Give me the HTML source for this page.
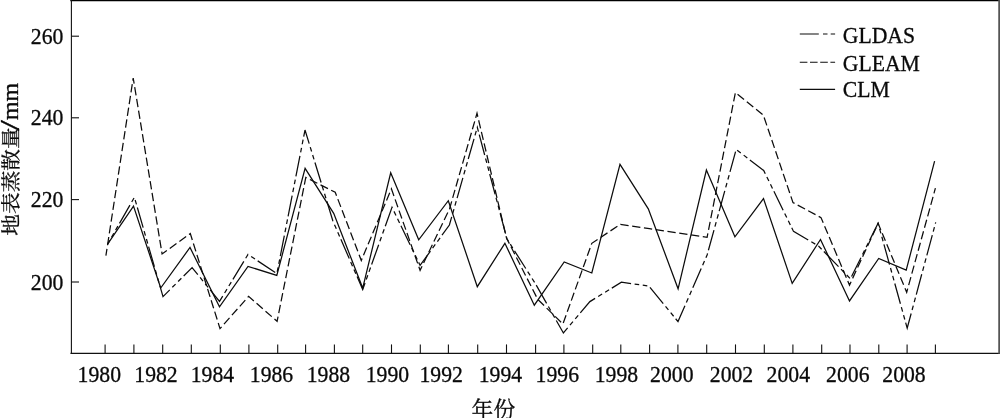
<!DOCTYPE html>
<html lang="zh-CN">
<head>
<meta charset="utf-8">
<title>地表蒸散量</title>
<style>
html,body{margin:0;padding:0;background:#fff;}
body{width:1000px;height:418px;overflow:hidden;}
svg{display:block;}
text{font-family:"Liberation Serif","Noto Serif CJK SC",serif;fill:#0a0a0a;stroke:#0a0a0a;stroke-width:0.3px;}
.cjk{font-family:"Liberation Serif","Noto Serif CJK SC",serif;}
</style>
</head>
<body>
<svg width="1000" height="418" viewBox="0 0 1000 418">
<rect x="0" y="0" width="1000" height="418" fill="#ffffff"/>

<g stroke="#111" fill="none">
<line x1="70.3" y1="0.55" x2="1000" y2="0.55" stroke="#000" stroke-width="1.2"/>
<line x1="71.4" y1="0" x2="71.4" y2="353.9" stroke-width="1.1"/>
<line x1="70.5" y1="353.3" x2="1000" y2="353.3" stroke-width="1.2"/>
<line x1="999.2" y1="0" x2="999.2" y2="353.8" stroke="#555" stroke-width="1.9"/>
<line x1="105.1" y1="344.4" x2="105.1" y2="353.3" stroke-width="1.1"/>
<line x1="133.9" y1="344.4" x2="133.9" y2="353.3" stroke-width="1.1"/>
<line x1="162.7" y1="344.4" x2="162.7" y2="353.3" stroke-width="1.1"/>
<line x1="191.3" y1="344.4" x2="191.3" y2="353.3" stroke-width="1.1"/>
<line x1="220.3" y1="344.4" x2="220.3" y2="353.3" stroke-width="1.1"/>
<line x1="248.9" y1="344.4" x2="248.9" y2="353.3" stroke-width="1.1"/>
<line x1="277.7" y1="344.4" x2="277.7" y2="353.3" stroke-width="1.1"/>
<line x1="305.6" y1="344.4" x2="305.6" y2="353.3" stroke-width="1.1"/>
<line x1="334.4" y1="344.4" x2="334.4" y2="353.3" stroke-width="1.1"/>
<line x1="362.7" y1="344.4" x2="362.7" y2="353.3" stroke-width="1.1"/>
<line x1="391.5" y1="344.4" x2="391.5" y2="353.3" stroke-width="1.1"/>
<line x1="420.3" y1="344.4" x2="420.3" y2="353.3" stroke-width="1.1"/>
<line x1="448.4" y1="344.4" x2="448.4" y2="353.3" stroke-width="1.1"/>
<line x1="477.7" y1="344.4" x2="477.7" y2="353.3" stroke-width="1.1"/>
<line x1="506.5" y1="344.4" x2="506.5" y2="353.3" stroke-width="1.1"/>
<line x1="535.6" y1="344.4" x2="535.6" y2="353.3" stroke-width="1.1"/>
<line x1="563.9" y1="344.4" x2="563.9" y2="353.3" stroke-width="1.1"/>
<line x1="592.7" y1="344.4" x2="592.7" y2="353.3" stroke-width="1.1"/>
<line x1="620.8" y1="344.4" x2="620.8" y2="353.3" stroke-width="1.1"/>
<line x1="649.6" y1="344.4" x2="649.6" y2="353.3" stroke-width="1.1"/>
<line x1="677.9" y1="344.4" x2="677.9" y2="353.3" stroke-width="1.1"/>
<line x1="706.7" y1="344.4" x2="706.7" y2="353.3" stroke-width="1.1"/>
<line x1="735.5" y1="344.4" x2="735.5" y2="353.3" stroke-width="1.1"/>
<line x1="764.3" y1="344.4" x2="764.3" y2="353.3" stroke-width="1.1"/>
<line x1="792.9" y1="344.4" x2="792.9" y2="353.3" stroke-width="1.1"/>
<line x1="821.7" y1="344.4" x2="821.7" y2="353.3" stroke-width="1.1"/>
<line x1="850.0" y1="344.4" x2="850.0" y2="353.3" stroke-width="1.1"/>
<line x1="878.8" y1="344.4" x2="878.8" y2="353.3" stroke-width="1.1"/>
<line x1="907.1" y1="344.4" x2="907.1" y2="353.3" stroke-width="1.1"/>
<line x1="935.4" y1="344.4" x2="935.4" y2="353.3" stroke-width="1.1"/>
<line x1="71.4" y1="36.2" x2="79" y2="36.2" stroke-width="1.1"/>
<line x1="71.4" y1="117.8" x2="79" y2="117.8" stroke-width="1.1"/>
<line x1="71.4" y1="199.6" x2="79" y2="199.6" stroke-width="1.1"/>
<line x1="71.4" y1="282.0" x2="79" y2="282.0" stroke-width="1.1"/>
</g>
<g font-size="21.7">
<text transform="translate(63.4,43.7) scale(1,1.05)" text-anchor="end">260</text>
<text transform="translate(63.4,125.3) scale(1,1.05)" text-anchor="end">240</text>
<text transform="translate(63.4,207.1) scale(1,1.05)" text-anchor="end">220</text>
<text transform="translate(63.4,289.5) scale(1,1.05)" text-anchor="end">200</text>
<text transform="translate(99.3,381.9) scale(1,1.05)" text-anchor="middle">1980</text>
<text transform="translate(156,381.9) scale(1,1.05)" text-anchor="middle">1982</text>
<text transform="translate(212.4,381.9) scale(1,1.05)" text-anchor="middle">1984</text>
<text transform="translate(271.5,381.9) scale(1,1.05)" text-anchor="middle">1986</text>
<text transform="translate(328.4,381.9) scale(1,1.05)" text-anchor="middle">1988</text>
<text transform="translate(387.4,381.9) scale(1,1.05)" text-anchor="middle">1990</text>
<text transform="translate(441.2,381.9) scale(1,1.05)" text-anchor="middle">1992</text>
<text transform="translate(500.4,381.9) scale(1,1.05)" text-anchor="middle">1994</text>
<text transform="translate(557.3,381.9) scale(1,1.05)" text-anchor="middle">1996</text>
<text transform="translate(616.4,381.9) scale(1,1.05)" text-anchor="middle">1998</text>
<text transform="translate(671.8,381.9) scale(1,1.05)" text-anchor="middle">2000</text>
<text transform="translate(731.5,381.9) scale(1,1.05)" text-anchor="middle">2002</text>
<text transform="translate(788.3,381.9) scale(1,1.05)" text-anchor="middle">2004</text>
<text transform="translate(847.8,381.9) scale(1,1.05)" text-anchor="middle">2006</text>
<text transform="translate(904,381.9) scale(1,1.05)" text-anchor="middle">2008</text>
</g>
<text class="cjk" x="493.4" y="417.0" font-size="21.8" text-anchor="middle">年份</text>
<text class="cjk" transform="translate(17.8,235.7) rotate(-90) scale(1,0.91)" font-size="21.7" text-anchor="start">地表蒸散量</text>
<text transform="translate(19.0,130.8) rotate(-90) scale(1.45,1)" font-size="26.5" text-anchor="start">/</text>
<text transform="translate(18.4,120.0) rotate(-90)" font-size="23.8" text-anchor="start">mm</text>
<g fill="none" stroke="#0c0c0c" stroke-width="1.25" stroke-linejoin="miter">
<polyline points="107.6,244.1 133.5,206.1 160.7,288.0 190.0,247.5 219.5,306.9 248.0,266.4 276.8,275.4 305.1,168.4 333.7,213.3 362.7,288.1 390.7,172.8 418.7,239.8 448.3,200.7 477.3,286.7 504.9,243.3 534.3,305.2 564.2,262.0 591.8,273.0 620.0,164.4 648.3,208.8 678.1,288.8 706.4,170.1 734.9,236.8 763.5,198.5 792.2,283.4 820.5,239.5 849.5,300.9 878.7,258.5 906.2,270.2 934.6,161.2"/>
<polyline points="105.9,255.7 133.2,78.0 162.1,254.0 190.3,233.6 220.0,328.6 248.6,296.4 277.1,321.3 305.8,177.5 335.2,192.2 361.3,260.5 391.4,188.8 420.1,270.3 449.5,209.0 477.0,113.3 506.5,238.0 537.7,299.3 562.9,324.0 591.8,243.3 620.4,224.3 649.4,228.7 678.3,233.0 707.1,237.3 735.4,92.5 763.3,115.0 793.0,202.6 821.0,217.6 849.5,285.1 878.1,223.3 906.7,292.3 935.4,188.2" stroke-dasharray="8.3 3.6" stroke-dashoffset="1.3"/>
<polyline points="107.6,244.1 134.4,197.3 163.0,296.6 192.1,267.6 219.5,301.4 248.0,254.5 276.9,273.5 305.0,130.0 332.9,221.0 362.7,289.5 392.0,207.3 420.1,265.4 449.4,225.0 477.3,127.3 507.0,239.0 535.6,284.0 563.4,333.0 589.9,301.6 621.4,282.2 649.0,286.1 678.0,321.6 707.1,255.0 736.2,149.4 763.7,170.5 793.5,231.4 818.5,246.0 850.4,278.8 878.1,223.3 907.2,328.2 935.7,222.4" stroke-dasharray="21 3.6 4.6 3.6 4.6 3.23" stroke-dashoffset="16.7"/>
</g>
<g fill="none" stroke="#0c0c0c" stroke-width="1.1">
<line x1="799.8" y1="34" x2="835.1" y2="34" stroke-dasharray="19 4.2 4.5 3.2 4.5 10"/>
<line x1="799.8" y1="62.3" x2="835.1" y2="62.3" stroke-dasharray="7.6 2.6"/>
<line x1="799.8" y1="89.4" x2="835.1" y2="89.4"/>
</g>
<g font-size="21.7">
<text transform="translate(842.8,42.8) scale(1,1.05)">GLDAS</text>
<text transform="translate(842.8,70.9) scale(1,1.05)">GLEAM</text>
<text transform="translate(842.8,96.8) scale(1,1.05)">CLM</text>
</g>
</svg>
</body>
</html>
